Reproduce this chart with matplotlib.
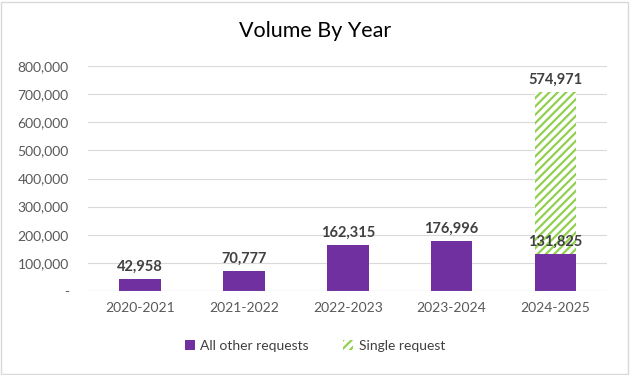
import numpy as np
import matplotlib.pyplot as plt
from matplotlib.patches import Rectangle
from matplotlib.ticker import FuncFormatter

plt.rcParams['font.family'] = ['Lato', 'DejaVu Sans']
plt.rcParams['hatch.linewidth'] = 1.6

years = ['2020-2021', '2021-2022', '2022-2023', '2023-2024', '2024-2025']
other_requests = [42958, 70777, 162315, 176996, 131825]
single_request = [0, 0, 0, 0, 574971]

purple = '#7030A0'
green = '#92D050'
text_col = '#404040'

fig = plt.figure(figsize=(6.3, 3.75), dpi=100)
ax = fig.add_axes([0.14, 0.224, 0.824, 0.6])

x = np.arange(len(years))
b1 = ax.bar(x, other_requests, width=0.4, color=purple, label='All other requests', zorder=3)
b2 = ax.bar(x, single_request, width=0.4, bottom=other_requests, facecolor='white',
            edgecolor=green, hatch='////', linewidth=0, label='Single request', zorder=3)

for i, v in enumerate(other_requests):
    ax.annotate(f'{v:,}', (x[i], v), xytext=(0, 4), textcoords='offset points',
                ha='center', va='bottom', fontsize=10.5, fontweight='bold', color=text_col, zorder=5)
for i, v in enumerate(single_request):
    if v:
        ax.annotate(f'{v:,}', (x[i], v + other_requests[i]), xytext=(0, 4), textcoords='offset points',
                    ha='center', va='bottom', fontsize=10.5, fontweight='bold', color=text_col, zorder=5)

ax.set_xlim(-0.5, len(years) - 0.5)
ax.set_ylim(0, 800000)
ax.set_yticks(np.arange(0, 800001, 100000))
ax.yaxis.set_major_formatter(FuncFormatter(lambda v, p: '-' if v == 0 else f'{int(v):,}'))
ax.set_xticks(x)
ax.set_xticklabels(years)
ax.tick_params(axis='both', length=0, labelsize=10, colors='#595959', pad=8)
ax.tick_params(axis='y', pad=14)
ax.grid(axis='y', color='#D9D9D9', linewidth=0.8, zorder=0)
for s in ax.spines.values():
    s.set_visible(False)
ax.axhline(0, color='#D9D9D9', linewidth=0.8, zorder=4)

fig.suptitle('Volume By Year', y=0.945, fontsize=15.5, color='black')
fig.legend(handles=[b1, b2], loc='center', bbox_to_anchor=(0.5, 0.077), ncol=2, frameon=False,
           fontsize=10, handlelength=0.7, handleheight=0.7, columnspacing=2.5, handletextpad=0.4,
           labelcolor='#404040')

fig.patches.append(Rectangle((0.002, 0.003), 0.995, 0.993, transform=fig.transFigure,
                             fill=False, edgecolor='#D9D9D9', linewidth=1))

fig.savefig('out.png', dpi=100)
